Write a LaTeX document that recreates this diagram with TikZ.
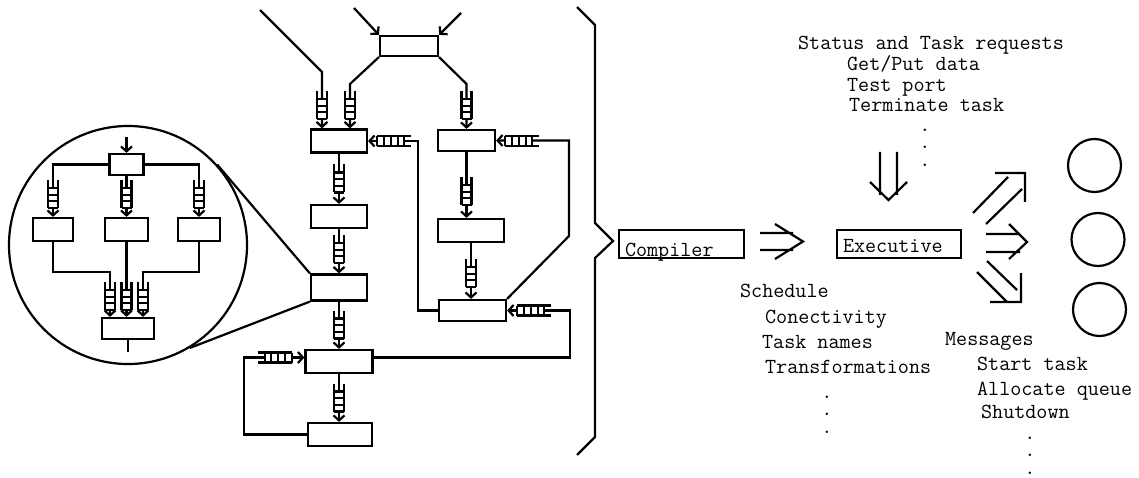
\documentclass[tikz,border=0pt]{standalone}
\usetikzlibrary{arrows.meta}
\begin{document}
\begin{tikzpicture}[x=1pt, y=-1pt, line width=2.2pt,
    >={Straight Barb[length=5pt,width=11pt]},
    box/.style={draw, rectangle, inner sep=0pt, minimum height=23pt},
    txt/.style={font=\fontsize{21.5pt}{26pt}\selectfont\ttfamily, inner sep=0pt, anchor=base west},
    dots/.style={font=\fontsize{21.5pt}{17.5pt}\selectfont\ttfamily, inner sep=0pt,
      anchor=north, align=center},
    vqueue/.pic={
      \fill[white] (-5,-6) rectangle (5,14);
      \draw (-5,-14) -- (-5,14) (5,-14) -- (5,14);
      \foreach \k in {-6,0.7,7.3,14} \draw (-5,\k) -- (5,\k);
    },
    lqueue/.pic={
      \fill[white] (-17,-5) rectangle (10,5);
      \draw (-17,-5) -- (17,-5) (-17,5) -- (17,5);
      \foreach \k in {-17,-10,-3,4,10} \draw (\k,-5) -- (\k,5);
    }]
  \useasboundingbox (0,0) rectangle (1139,478);

  % task graph
  \node[box, minimum width=58pt, minimum height=20pt] (B0) at (409,46) {};
  \node[box, minimum width=56pt] (A1) at (339,141) {};
  \node[box, minimum width=56pt] (A1b) at (339,216.5) {};
  \node[box, minimum width=56pt, minimum height=26pt] (A1c) at (339,287.5) {};
  \node[box, minimum width=67pt] (A5) at (339,361.5) {};
  \node[box, minimum width=64pt] (A6) at (340,434.5) {};
  \node[box, minimum width=57pt, minimum height=21pt] (A2) at (466.5,140.5) {};
  \node[box, minimum width=66pt] (A3) at (471,230.5) {};
  \node[box, minimum width=67pt, minimum height=21pt] (A4) at (472.5,310.5) {};

  \draw[->] (260,10) -- (322,72) -- ([xshift=-17pt]A1.north);
  \draw[->] (354,8) -- (B0.north west);
  \draw[->] (461,13) -- (B0.north east);
  \draw[->] (B0.south west) -- (350,84) -- ([xshift=11pt]A1.north);
  \draw[->] (B0.south east) -- (A2.north |- 0,84) -- (A2.north);
  \draw[->] (A1.south) -- (A1b.north);
  \draw[->] (A1b.south) -- (A1c.north);
  \draw[->] (A1c.south) -- (A1c.south |- A5.north);
  \draw[->] (A5.south) -- (A5.south |- A6.north);
  \draw[->] (A2.south) -- (A2.south |- A3.north);
  \draw[->] (A3.south) -- (A3.south |- A4.north);
  % feedback paths
  \draw[->] (A4.west) -- ++(-20,0) |- (A1.east);
  \draw[->] (A4.north east) -- (569,236) |- (A2.east);
  \draw[->] ([yshift=4pt]A5.east) -- (570,357.5) |- (A4.east);
  \draw[->] (A6.west) -- ++(-63,0) |- ([yshift=4pt]A5.west);

  \pic at (322,105) {vqueue};
  \pic at (350,105) {vqueue};
  \pic at (466.5,105) {vqueue};
  \pic at (339,178.5) {vqueue};
  \pic at (339,249) {vqueue};
  \pic at (339,324.5) {vqueue};
  \pic at (339,397.5) {vqueue};
  \pic at (466.5,191) {vqueue};
  \pic at (471,273) {vqueue};
  \pic at (394,141) {lqueue};
  \pic at (522,141) {lqueue};
  \pic at (534,310.5) {lqueue};
  \pic[xscale=-1] at (275,357.5) {lqueue};

  % zoomed task
  \node[draw, circle, inner sep=0pt, minimum size=238pt] (zoom) at (128,245) {};
  \draw (A1c.north west) -- (zoom.42);
  \draw (A1c.south west) -- (zoom.-59);
  \node[box, minimum width=34pt, minimum height=21pt] (C0) at (126.5,164.5) {};
  \node[box, minimum width=40pt] (C1) at (53,229.5) {};
  \node[box, minimum width=43pt] (C2) at (126.5,229.5) {};
  \node[box, minimum width=42pt] (C3) at (199,229.5) {};
  \node[box, minimum width=52pt, minimum height=21pt] (C4) at (128,328.5) {};
  \coordinate (cin) at (126.5,137);
  \coordinate (c4l) at ([xshift=-18pt]C4.north);
  \coordinate (c4r) at ([xshift=15pt]C4.north);
  \draw[->] (cin) -- (C0.north);
  \draw[->] (C0.west) -| (C1.north);
  \draw[->] (C0.south) -- (C2.north);
  \draw[->] (C0.east) -| (C3.north);
  \draw[->] (C1.south) -- (C1.south |- 0,272) -| (c4l);
  \draw[->] (C2.south) -- (C2.south |- C4.north);
  \draw[->] (C3.south) -- (C3.south |- 0,272) -| (c4r);
  \draw (C4.south) -- ++(0,12);
  \pic at (53,194) {vqueue};
  \pic at (126.5,194) {vqueue};
  \pic at (199,194) {vqueue};
  \pic at (110,296) {vqueue};
  \pic at (126.5,296) {vqueue};
  \pic at (143,296) {vqueue};

  % brace
  \draw (577,7) -- (595,25) -- (595,223) -- (613,241) -- (595,258)
    -- (595,437) -- (577,455);

  % compiler and executive
  \node[box, font=\fontsize{21.5pt}{26pt}\selectfont\ttfamily, align=left,
    text width=113pt, inner xsep=6pt, text height=26pt, text depth=2pt]
    (comp) at (681.5,244) {Compiler};
  \node[box, font=\fontsize{21.5pt}{26pt}\selectfont\ttfamily, align=left,
    text width=112pt, inner xsep=6pt, text height=22pt, text depth=6pt]
    (exec) at (899,244) {Executive};
  \draw (760,233) -- (793,233) (760,250) -- (793,250)
    (775,224) -- (803,241.5) -- (775,259);
  \draw (880,152) -- (880,195) (897,152) -- (897,195)
    (870,182) -- (888.5,200) -- (907,182);
  \draw (973,213) -- (1008,177) (986,224) -- (1022,189)
    (995,173) -- (1025,173) -- (1025,202);
  \draw (986,234) -- (1020,234) (986,252) -- (1020,252)
    (1009,224) -- (1027,242) -- (1009,259);
  \draw (987,261) -- (1017,290) (977,272) -- (1007,302)
    (990,302) -- (1021,302) -- (1021,273);
  \node[draw, circle, inner sep=0pt, minimum size=53pt] (p1) at (1094.5,165.5) {};
  \node[draw, circle, inner sep=0pt, minimum size=53pt] (p2) at (1098,239.5) {};
  \node[draw, circle, inner sep=0pt, minimum size=53pt] (p3) at (1099.5,309.5) {};

  % texts
  \node[txt] (stat) at (797,50) {Status and Task requests};
  \node[txt] (getput) at (846,71) {Get/Put data};
  \node[txt] (tport) at (846,92) {Test port};
  \node[txt] (term) at (848,112) {Terminate task};
  \node[dots] (sdots) at (925,127.5) {.\\.\\.};
  \node[txt] (sched) at (739,297) {Schedule};
  \node[txt] (conn) at (764,323) {Conectivity};
  \node[txt] (tnames) at (761,348) {Task names};
  \node[txt] (trans) at (764,373) {Transformations};
  \node[dots] (cdots) at (827,394.5) {.\\.\\.};
  \node[txt] (msg) at (944,345) {Messages};
  \node[txt] (start) at (976,370) {Start task};
  \node[txt] (alloc) at (976,395) {Allocate queue};
  \node[txt] (shut) at (980,418) {Shutdown};
  \node[dots] (mdots) at (1030,435.5) {.\\.\\.};
\end{tikzpicture}
\end{document}
